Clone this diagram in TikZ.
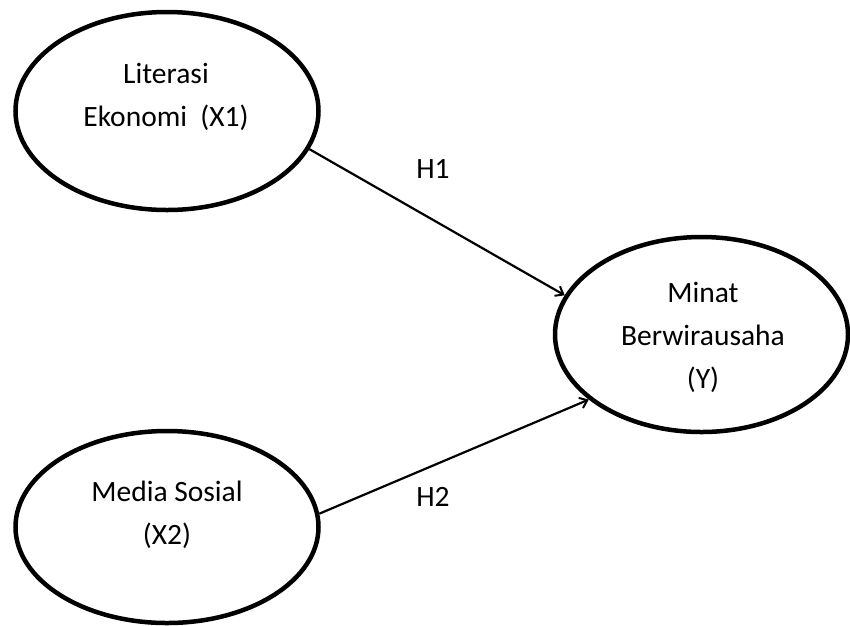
\documentclass[tikz,border=0pt]{standalone}
\usepackage{fontspec}
\setmainfont{Carlito}
\usepackage{tikz}
\usetikzlibrary{shapes.geometric,arrows.meta,backgrounds}
\newcommand{\varFont}{\fontsize{29.5}{43}\selectfont}
\newcommand{\borderWidth}{4.5pt}
\newcommand{\arrowWidth}{2.2pt}
\tikzset{
	latentVar/.style={draw, ellipse, line width=\borderWidth, fill=white, inner sep=0pt},
	varText/.style={align=center, font=\varFont, inner sep=0pt},
	hypArrow/.style={line width=\arrowWidth, -{Straight Barb[length=7pt,width=11pt,line width=2pt]}},
	hypLabel/.style={font=\varFont, inner sep=0pt}
}

\begin{document}
\begin{tikzpicture}[x=1pt, y=-1pt]
	\useasboundingbox (0,0) rectangle (850,625);
	
		% latent variables
		\node[latentVar, minimum width=303pt, minimum height=198pt] (lit) at (167,111) {};
		\node[latentVar, minimum width=303pt, minimum height=192pt] (med) at (167,527) {};
		\node[latentVar, minimum width=293pt, minimum height=195pt] (min) at (701.5,334.5) {};
		
		\node[varText] (litText) at (166,97) {Literasi\\Ekonomi~~(X1)};
		\node[varText] (medText) at (167,515) {Media Sosial\\(X2)};
		\node[varText] (minText) at (703,337) {Minat\\Berwirausaha\\(Y)};
		
		% hypotheses
		\begin{scope}[on background layer]
			\draw[hypArrow] (lit.-15.5) -- (min.164.5);
			\draw[hypArrow] (med.5.3) -- (min.210.3);
		\end{scope}
		
		\node[hypLabel] (h1) at (433,169) {H1};
		\node[hypLabel] (h2) at (433,497) {H2};
	\end{tikzpicture}
\end{document}
